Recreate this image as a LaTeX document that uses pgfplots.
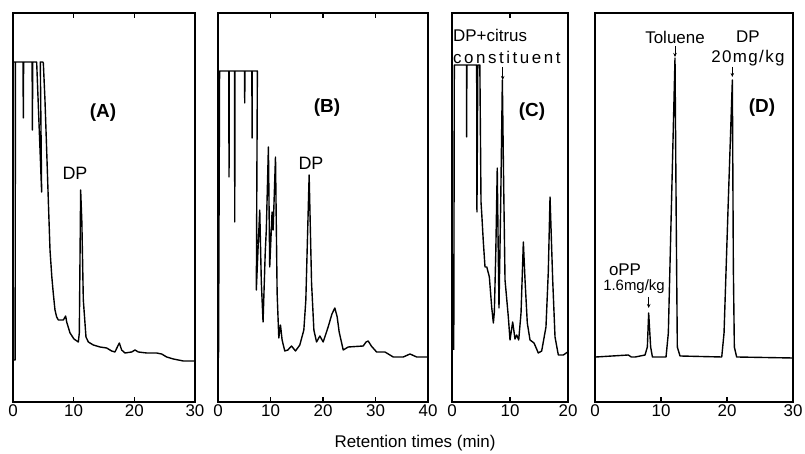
\documentclass[border=0pt]{standalone}
\usepackage{fontspec}
\setmainfont{Liberation Sans}
\usepackage{pgfplots}
\pgfplotsset{compat=1.18}
\usetikzlibrary{arrows.meta}

\pgfplotsset{
  chrom/.style={
    scale only axis, anchor=south west,
    height=389bp, ymin=0, ymax=389,
    ytick=\empty, axis line style={line width=1.3pt},
    tick style={line width=1.1pt, black}, major tick length=5bp,
    /pgf/number format/assume math mode=true,
    ticklabel style={font=\fontsize{17}{17}\selectfont},
    xticklabel style={yshift=1bp},
  },
  trace/.style={black, line width=1.4pt, mark=none, line join=round},
}

\begin{document}
\begin{tikzpicture}[x=1bp,y=1bp]
\useasboundingbox (0,0) rectangle (805,454);

% (A)
\begin{axis}[chrom, at={(13bp,52bp)}, width=182bp,
  xmin=0, xmax=30, xtick={0,10,20,30}]
\addplot[trace] coordinates {
(0.3,340) (0,340) (0.02,42) (0.35,42) (0.4,340) (1.65,340) (1.7,284) (1.75,340)
(3.15,340) (3.2,272) (3.25,340) (3.9,340) (4.72,210) (4.5,340) (4.9,340) (5.0,339)
(5.27,302) (5.55,252) (5.82,202) (6.1,152) (6.4,125) (6.65,108) (6.92,92) (7.2,85) (7.47,82) (8.3,82)
(8.68,86) (8.85,80) (9.4,69) (10.05,63) (10.77,60) (10.93,69) (11.15,212) (11.35,180)
(11.59,102) (12.03,65) (12.42,60) (13.24,57) (14.34,55) (15.44,54) (16.26,51) (16.81,50)
(17.2,55) (17.53,59) (17.91,52) (18.46,49) (19.56,50) (20.11,52) (20.66,50) (22.03,49) (23.68,49)
(24.5,48) (25.33,45) (26.43,43) (28.08,41) (29.83,41)
};
\end{axis}

% (B)
\begin{axis}[chrom, at={(218bp,52bp)}, width=210bp,
  xmin=0, xmax=40, xtick={0,10,20,30,40}]
\addplot[trace] coordinates {
(0.1,44) (0.3,331) (2.05,331) (2.1,225) (2.15,331) (3.15,331) (3.19,180) (3.23,331)
(5.05,331) (5.09,299) (5.13,331) (6.45,331) (6.49,264) (6.53,331) (7.5,331) (7.3,112)
(7.6,150) (7.95,192) (8.25,120) (8.58,80) (9.0,150) (9.2,172) (9.6,255) (9.85,135)
(10.3,190) (10.5,172) (10.95,245) (11.26,109) (11.58,64) (11.9,77) (12.21,62) (12.72,51)
(13.3,52) (14.0,56) (14.76,51) (15.58,57) (16.35,72) (16.73,102) (17.36,227) (17.82,119)
(18.26,72) (18.77,60) (19.4,66) (20.03,60) (20.98,75) (21.7,88) (22.26,94) (22.7,85) (23.08,70) (23.85,52)
(24.8,55) (27.66,56) (28.2,60) (28.61,61) (29.2,56) (30.21,50) (31.8,50) (33.38,45) (35.29,45) (36.57,48)
(37.84,45) (40,45)
};
\end{axis}

% (C)
\begin{axis}[chrom, at={(452bp,52bp)}, width=116bp,
  xmin=0, xmax=20, xtick={0,10,20}]
\addplot[trace] coordinates {
(0.3,52) (0.4,337) (2.5,337) (2.53,265) (2.56,337) (4.25,337) (4.3,190) (4.45,337)
(4.8,337) (5.0,200) (5.12,189) (5.4,160) (5.69,135) (6.0,135) (6.44,125) (6.84,95)
(7.13,79) (7.3,90) (7.55,150) (7.8,234) (7.95,160) (8.1,94) (8.4,200) (8.68,322)
(8.9,220) (9.14,122) (9.71,85) (10.0,62) (10.46,80) (10.86,63) (11.15,67) (11.5,62)
(11.9,89) (12.3,160) (12.59,122) (12.98,79) (13.45,62) (14.14,59) (14.88,49) (15.46,51)
(16.2,75) (16.6,130) (16.9,205) (17.36,122) (17.76,65) (18.33,47) (19.2,47) (19.94,50)
};
\end{axis}

% (D)
\begin{axis}[chrom, at={(595bp,52bp)}, width=198bp,
  xmin=0, xmax=30, xtick={0,10,20,30}, xtick pos=bottom]
\addplot[trace] coordinates {
(0.15,45) (5.05,47) (5.5,45) (6.1,45) (7.58,47) (7.93,55) (8.13,89) (8.43,55)
(8.7,45) (10.76,45) (11.11,69) (11.6,202) (12.12,344) (12.32,169) (12.47,55) (12.88,46)
(19.2,45) (19.55,69) (20.2,202) (20.81,322) (20.96,135) (21.11,55) (21.46,45) (29.95,44)
};
\end{axis}

% annotations
\def\lab{\fontsize{17}{17}\selectfont}
\def\blab{\fontsize{19}{19}\selectfont\bfseries}
\node[font=\blab] at (103,341) {(A)};
\node[font=\fontsize{18}{18}\selectfont] at (75,281) {DP};
\node[font=\blab] at (327,346) {(B)};
\node[font=\fontsize{18}{18}\selectfont] at (311,291) {DP};
\node[font=\lab, anchor=west, inner sep=0pt] at (453,419) {DP+citrus};
\node[font=\lab, anchor=west, inner sep=0pt] at (453,397) {\addfontfeature{LetterSpace=15}constituent};
\draw[line width=0.9pt, -{Stealth[length=4bp,width=3.5bp]}] (502.7,387) -- (502.7,374);
\node[font=\blab] at (532,342) {(C)};
\node[font=\lab, inner sep=1pt] at (625,184) {oPP};
\node[font=\fontsize{15}{15}\selectfont, inner sep=1pt] at (634,167) {1.6mg/kg};
\draw[line width=0.9pt, -{Stealth[length=4bp,width=3.5bp]}] (648.7,157) -- (648.7,146);
\node[font=\lab] at (675,417) {Toluene};
\draw[line width=0.9pt, -{Stealth[length=4bp,width=3.5bp]}] (675,408) -- (675,397);
\node[font=\lab] at (748,417) {DP};
\node[font=\lab] at (748,396) {\addfontfeature{LetterSpace=8}20mg/kg};
\draw[line width=0.9pt, -{Stealth[length=4bp,width=3.5bp]}] (732.3,387) -- (732.3,377);
\node[font=\blab] at (762,346) {(D)};
\node[font=\fontsize{17}{17}\selectfont] at (415,11) {Retention times (min)};
\end{tikzpicture}
\end{document}
